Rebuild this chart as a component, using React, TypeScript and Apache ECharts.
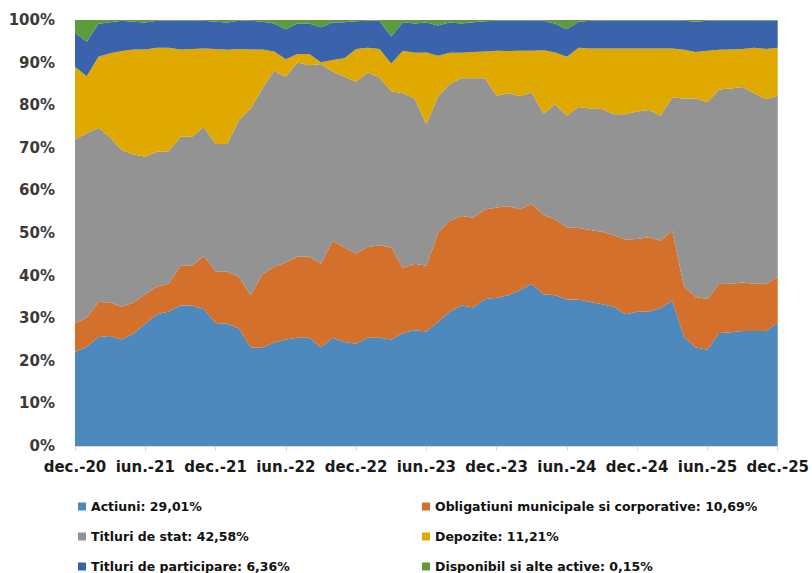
import React, { useEffect, useRef } from "react";
import * as echarts from "echarts";

const months = [
  "dec.-20","ian.-21","feb.-21","mar.-21","apr.-21","mai-21","iun.-21","iul.-21","aug.-21","sep.-21","oct.-21","noi.-21",
  "dec.-21","ian.-22","feb.-22","mar.-22","apr.-22","mai-22","iun.-22","iul.-22","aug.-22","sep.-22","oct.-22","noi.-22",
  "dec.-22","ian.-23","feb.-23","mar.-23","apr.-23","mai-23","iun.-23","iul.-23","aug.-23","sep.-23","oct.-23","noi.-23",
  "dec.-23","ian.-24","feb.-24","mar.-24","apr.-24","mai-24","iun.-24","iul.-24","aug.-24","sep.-24","oct.-24","noi.-24",
  "dec.-24","ian.-25","feb.-25","mar.-25","apr.-25","mai-25","iun.-25","iul.-25","aug.-25","sep.-25","oct.-25","noi.-25",
  "dec.-25"
];

const actiuni = [
  22.1,23.3,25.6,25.8,25.0,26.4,28.7,30.9,31.6,33.0,33.0,32.1,
  28.9,28.7,27.6,23.1,23.1,24.3,25.0,25.4,25.4,23.1,25.4,24.4,
  24.0,25.4,25.4,25.0,26.5,27.2,26.9,29.1,31.5,33.0,32.5,34.5,
  34.8,35.4,36.6,38.0,35.6,35.4,34.4,34.4,33.8,33.3,32.7,30.9,
  31.5,31.6,32.4,34.1,25.6,23.1,22.6,26.5,26.7,27.0,27.0,27.0,
  29.01
];
const obligatiuni = [
  6.8,6.8,8.2,7.9,7.7,7.3,6.9,6.5,6.5,9.3,9.3,12.5,
  12.1,12.2,12.1,12.3,17.2,17.8,18.1,19.0,19.0,19.7,22.8,22.2,
  21.2,21.3,21.7,21.6,15.3,15.6,15.4,20.9,21.4,21.0,21.1,21.0,
  21.2,20.9,19.0,18.8,18.6,17.8,16.9,16.8,16.9,17.0,16.8,17.6,
  17.1,17.4,15.8,16.4,11.8,11.9,11.9,11.5,11.4,11.4,11.1,11.1,
  10.69
];
const titluriStat = [
  43.1,43.3,40.9,38.7,36.8,34.7,32.3,31.7,31.1,30.3,30.3,30.3,
  29.9,30.0,36.8,43.8,43.6,45.9,43.6,45.6,45.0,46.9,39.7,40.1,
  40.3,41.0,39.4,36.7,41.0,38.8,33.2,32.0,32.1,32.3,32.7,30.8,
  26.2,26.5,26.5,26.2,23.8,27.0,26.2,28.4,28.5,28.8,28.4,29.4,
  29.9,29.9,29.3,31.3,44.2,46.6,46.2,45.7,45.8,45.9,44.7,43.3,
  42.58
];
const depozite = [
  17.0,13.4,16.7,19.8,23.2,24.7,25.2,24.4,24.3,20.5,20.6,18.4,
  22.3,22.1,16.7,13.9,9.2,4.6,4.1,2.0,2.6,0.4,2.7,4.3,
  7.7,5.8,6.7,6.5,10.0,10.7,16.9,9.6,7.3,6.0,6.2,6.3,
  10.6,9.9,10.7,9.8,14.9,12.2,13.9,13.9,14.1,14.2,15.4,15.4,
  14.8,14.4,15.8,11.5,11.4,10.9,12.1,9.3,9.2,8.9,10.7,11.8,
  11.21
];
const titluriParticipare = [
  8.0,8.1,7.7,7.3,7.1,6.5,6.3,6.3,6.3,6.7,6.6,6.5,
  6.4,6.4,6.6,6.7,6.5,6.6,7.0,7.2,7.2,8.2,8.8,8.5,
  6.5,6.3,6.6,6.3,6.7,6.9,7.0,7.1,7.1,6.9,7.0,7.1,
  7.0,7.1,7.0,7.0,6.9,6.7,6.4,6.1,6.5,6.5,6.5,6.5,
  6.5,6.5,6.5,6.5,6.8,7.1,7.0,6.8,6.7,6.6,6.3,6.6,
  6.36
];
const disponibil = [
  3.0,5.1,0.9,0.5,0.2,0.4,0.6,0.2,0.2,0.2,0.2,0.2,
  0.4,0.6,0.2,0.2,0.4,0.8,2.2,0.8,0.8,1.7,0.6,0.5,
  0.3,0.2,0.2,3.9,0.5,0.8,0.6,1.3,0.6,0.8,0.5,0.3,
  0.2,0.2,0.2,0.2,0.2,0.9,2.2,0.4,0.2,0.2,0.2,0.2,
  0.2,0.2,0.2,0.2,0.2,0.4,0.2,0.2,0.2,0.2,0.2,0.2,
  0.15
];

const seriesNames = [
  "Actiuni",
  "Obligatiuni municipale si corporative",
  "Titluri de stat",
  "Depozite",
  "Titluri de participare",
  "Disponibil si alte active",
];
const seriesData = [actiuni, obligatiuni, titluriStat, depozite, titluriParticipare, disponibil];
const colors = ["#4E89BD", "#D3702B", "#939393", "#E0A900", "#3A63AC", "#5E9B3D"];

const FONT = "DejaVu Sans";

export default function App() {
  const ref = useRef<HTMLDivElement>(null);
  useEffect(() => {
    if (!ref.current) return;
    const chart = echarts.init(ref.current, null, { renderer: "svg" });
    const lastValue: Record<string, number> = {};
    seriesNames.forEach((n, i) => {
      const d = seriesData[i];
      lastValue[n] = d[d.length - 1];
    });
    const fmt = (name: string) =>
      name + ": " + lastValue[name].toFixed(2).replace(".", ",") + "%";
    const legendBase = {
      orient: "vertical" as const,
      top: 499,
      height: 120,
      padding: 0,
      itemWidth: 8,
      itemHeight: 8,
      itemGap: 15,
      icon: "rect",
      formatter: fmt,
      textStyle: {
        fontFamily: FONT,
        fontWeight: "bold" as const,
        fontSize: 12.5,
        lineHeight: 15,
        color: "#111111",
      },
    };
    chart.setOption({
      animation: false,
      color: colors,
      grid: { left: 75, right: 34, top: 20, bottom: 127 },
      legend: [
        { ...legendBase, left: 78, data: [seriesNames[0], seriesNames[2], seriesNames[4]] },
        { ...legendBase, left: 422, data: [seriesNames[1], seriesNames[3], seriesNames[5]] },
      ],
      xAxis: {
        type: "category",
        data: months,
        boundaryGap: false,
        axisLine: { lineStyle: { color: "#D9D9D9", width: 1 } },
        axisTick: { show: true, interval: 5, length: 5, lineStyle: { color: "#D9D9D9" } },
        axisLabel: {
          interval: 5,
          margin: 13,
          fontFamily: FONT,
          fontWeight: "bold",
          fontSize: 15,
          color: "#1a1a1a",
        },
      },
      yAxis: {
        type: "value",
        min: 0,
        max: 100,
        interval: 10,
        axisLine: { show: false },
        axisTick: { show: false },
        splitLine: { show: false },
        axisLabel: {
          formatter: "{value}%",
          margin: 20,
          fontFamily: FONT,
          fontWeight: "bold",
          fontSize: 15,
          color: "#3a3a3a",
        },
      },
      series: seriesNames.map((name, i) => ({
        name,
        type: "line",
        stack: "total",
        data: seriesData[i],
        symbol: "none",
        lineStyle: { width: 0 },
        areaStyle: { opacity: 1, color: colors[i] },
        itemStyle: { color: colors[i] },
      })),
    });
    return () => chart.dispose();
  }, []);
  return (
    <div
      ref={ref}
      style={{ position: "fixed", left: 0, top: 0, width: 812, height: 573, background: "#ffffff" }}
    />
  );
}
